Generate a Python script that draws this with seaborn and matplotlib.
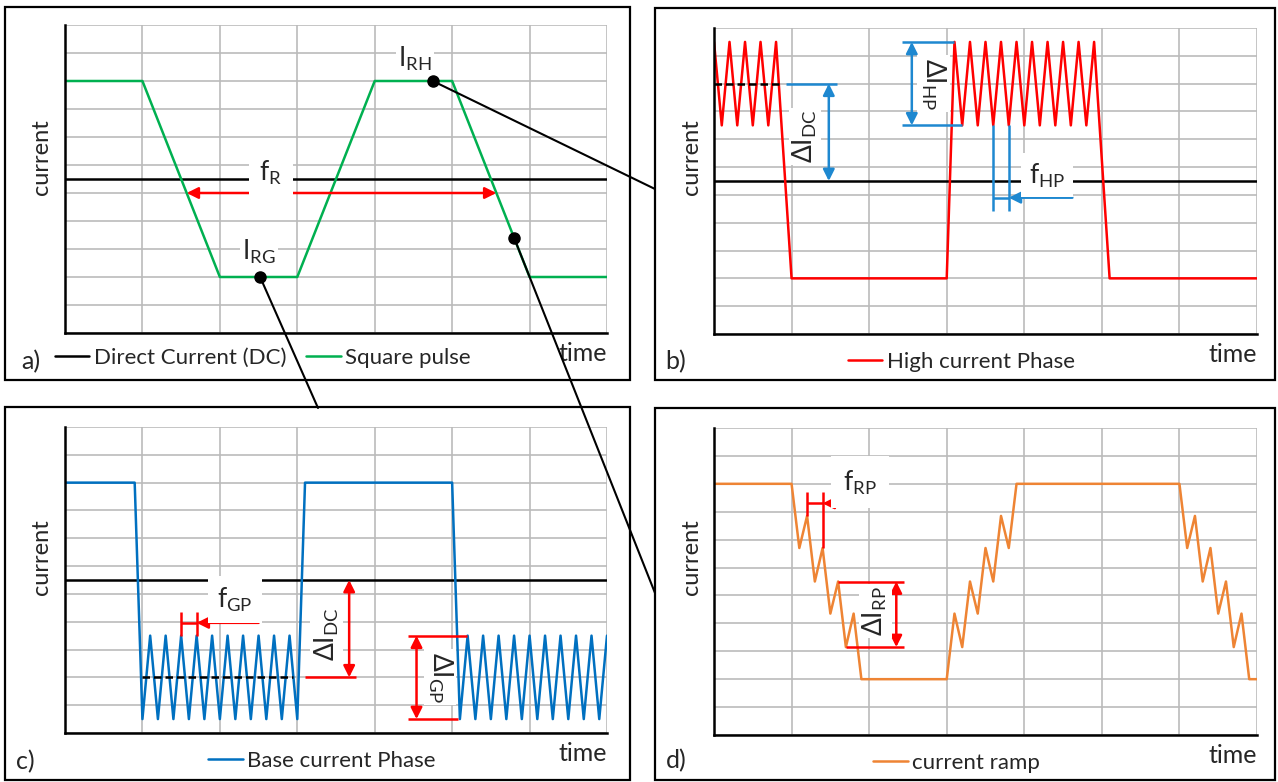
import matplotlib
matplotlib.use("Agg")
import numpy as np
import matplotlib.pyplot as plt
from matplotlib.patches import Rectangle, ConnectionPatch
import seaborn as sns

# ---------------- data ----------------
dc_level = 5.5

square_time = [0, 1, 2, 3, 4, 5, 6, 7]
square_current = [9, 9, 2, 2, 9, 9, 2, 2]

high_time = [0, 0.1, 0.2, 0.3, 0.4, 0.5, 0.6, 0.7, 0.8, 1.0,
             3.0, 3.1, 3.2, 3.3, 3.4, 3.5, 3.6, 3.7, 3.8, 3.9, 4.0,
             4.1, 4.2, 4.3, 4.4, 4.5, 4.6, 4.7, 4.8, 4.9, 5.1, 7.0]
high_current = [10.5, 7.5, 10.5, 7.5, 10.5, 7.5, 10.5, 7.5, 10.5, 2,
                2, 10.5, 7.5, 10.5, 7.5, 10.5, 7.5, 10.5, 7.5, 10.5, 7.5,
                10.5, 7.5, 10.5, 7.5, 10.5, 7.5, 10.5, 7.5, 10.5, 2, 2]

base_time = [0, 0.9, 1.0, 1.1, 1.2, 1.3, 1.4, 1.5, 1.6, 1.7, 1.8, 1.9, 2.0,
             2.1, 2.2, 2.3, 2.4, 2.5, 2.6, 2.7, 2.8, 2.9, 3.0, 3.1, 5.0,
             5.1, 5.2, 5.3, 5.4, 5.5, 5.6, 5.7, 5.8, 5.9, 6.0,
             6.1, 6.2, 6.3, 6.4, 6.5, 6.6, 6.7, 6.8, 6.9, 7.0]
base_current = [9, 9, 0.5, 3.5, 0.5, 3.5, 0.5, 3.5, 0.5, 3.5, 0.5, 3.5, 0.5,
                3.5, 0.5, 3.5, 0.5, 3.5, 0.5, 3.5, 0.5, 3.5, 0.5, 9, 9,
                0.5, 3.5, 0.5, 3.5, 0.5, 3.5, 0.5, 3.5, 0.5, 3.5,
                0.5, 3.5, 0.5, 3.5, 0.5, 3.5, 0.5, 3.5, 0.5, 3.5]

ramp_time = [0, 1.0, 1.1, 1.2, 1.3, 1.4, 1.5, 1.6, 1.7, 1.8, 1.9,
             3.0, 3.1, 3.2, 3.3, 3.4, 3.5, 3.6, 3.7, 3.8, 3.9,
             6.0, 6.1, 6.2, 6.3, 6.4, 6.5, 6.6, 6.7, 6.8, 6.9, 7.0]
ramp_current = [9, 9, 6.7, 7.85, 5.5, 6.7, 4.35, 5.5, 3.15, 4.35, 2,
                2, 4.35, 3.15, 5.5, 4.35, 6.7, 5.5, 7.85, 6.7, 9,
                9, 6.7, 7.85, 5.5, 6.7, 4.35, 5.5, 3.15, 4.35, 2, 2]

# mean levels of the pulsed phases and ripple bounds
hp_mean, hp_top, hp_bottom = 9, 10.5, 7.5
gp_mean, gp_top, gp_bottom = 2, 3.5, 0.5

# time positions of the marked points on the square pulse
dot_time = [4.75, 2.52, 5.8]

series_labels = ["Direct Current (DC)", "Square pulse", "High current Phase",
                 "Base current Phase", "current ramp"]
panel_letters = ["a)", "b)", "c)", "d)"]

# ---------------- style ----------------
sns.set_style("whitegrid")
plt.rcParams["font.family"] = ["Lato", "DejaVu Sans"]
plt.rcParams["mathtext.fontset"] = "custom"
plt.rcParams["mathtext.rm"] = "Lato"
plt.rcParams["mathtext.it"] = "Lato"
plt.rcParams["mathtext.default"] = "rm"
plt.rcParams["mathtext.fallback"] = "stixsans"

GREEN = "#00B050"
RED = "#FF0000"
BLUE = "#0070C0"
BLUE_ANN = "#1E88D0"
ORANGE = "#EE8434"
GRID = "#BBBBBB"
LW = 1.8
ANN_SIZE = 19

W, H = 1278, 782
fig = plt.figure(figsize=(W / 100, H / 100), dpi=100)
fig.patch.set_facecolor("white")


def fx(px):
    return px / W


def fy(py):
    return 1 - py / H


def make_axes(left, top, right, bottom):
    return fig.add_axes([fx(left), fy(bottom), (right - left) / W, (bottom - top) / H])


def style_axes(ax, ylab_xy):
    ax.set_xlim(0, 7)
    ax.set_ylim(0, 11)
    ax.set_xticks(range(8))
    ax.set_yticks(range(12))
    ax.tick_params(length=0, labelleft=False, labelbottom=False)
    ax.grid(True, color=GRID, lw=1.2)
    ax.set_axisbelow(True)
    for s in ["top", "right"]:
        ax.spines[s].set_visible(False)
    for s in ["left", "bottom"]:
        ax.spines[s].set_color("black")
        ax.spines[s].set_linewidth(1.8)
    ax.set_xlabel("")
    ax.set_ylabel("current", fontsize=17, va="center")
    ax.yaxis.set_label_coords(*ylab_xy)
    ax.text(1.0, -0.068, "time", transform=ax.transAxes, ha="right",
            va="center", fontsize=18)


def put_legend(ax, anchor, ncol=1):
    ax.legend(loc="center left", bbox_to_anchor=anchor, ncol=ncol,
              frameon=False, fontsize=16, handlelength=1.55,
              handletextpad=0.2, columnspacing=0.9, borderpad=0,
              borderaxespad=0)


def label(ax, x, y, s, rot=0, pad=0.3):
    ax.text(x, y, s, ha="center", va="center", rotation=rot,
            fontsize=ANN_SIZE, zorder=6,
            bbox=dict(fc="white", ec="none", boxstyle=f"square,pad={pad}"))


def seg(ax, xs, ys, color, ls="-"):
    ax.plot(xs, ys, color=color, lw=LW, ls=ls, zorder=4,
            solid_capstyle="butt")


def arrow(ax, start, end, color, style="-|>"):
    ax.annotate("", xy=end, xytext=start,
                arrowprops=dict(arrowstyle=style, color=color, lw=LW,
                                mutation_scale=17, shrinkA=0, shrinkB=0),
                zorder=5)


def line(ax, t, i, color, lab=None):
    sns.lineplot(x=t, y=i, ax=ax, color=color, lw=LW, estimator=None,
                 sort=False, label=lab, legend=False)


ax_a = make_axes(65, 25, 607, 333)
ax_b = make_axes(714, 28, 1257, 334)
ax_c = make_axes(65, 427, 607, 733)
ax_d = make_axes(714, 428, 1257, 735)

# ---------------- a) square pulse ----------------
line(ax_a, [0, 7], [dc_level, dc_level], "black", series_labels[0])
line(ax_a, square_time, square_current, GREEN, series_labels[1])
style_axes(ax_a, (-0.044, 0.571))
put_legend(ax_a, (-0.0185, -0.081), ncol=2)

fr_start = np.interp(5, square_current[1:3][::-1], square_time[1:3][::-1])
fr_end = np.interp(5, square_current[5:7][::-1], square_time[5:7][::-1])
arrow(ax_a, (fr_start, 5), (fr_end, 5), RED, "<|-|>")
label(ax_a, 2.66, 5.72, r"$\mathrm{f_R}$", pad=0.4)
label(ax_a, 4.52, 9.78, r"$\mathrm{I_{RH}}$", pad=0.08)
label(ax_a, 2.51, 2.9, r"$\mathrm{I_{RG}}$", pad=0.08)

dot_current = np.interp(dot_time, square_time, square_current)
ax_a.plot(dot_time, dot_current, "o", color="black", ms=8, zorder=7)

# ---------------- b) high current phase ----------------
line(ax_b, [0, 7], [dc_level, dc_level], "black")
line(ax_b, high_time, high_current, RED, series_labels[2])
style_axes(ax_b, (-0.042, 0.578))
put_legend(ax_b, (0.2468, -0.0915))
seg(ax_b, [0, 0.85], [hp_mean, hp_mean], "black", ls=(0, (3, 1.6)))

seg(ax_b, [0.93, 1.58], [hp_mean, hp_mean], BLUE_ANN)
arrow(ax_b, (1.48, hp_mean), (1.48, dc_level), BLUE_ANN, "<|-|>")
label(ax_b, 1.17, 7.1, r"$\mathrm{\Delta I_{DC}}$", rot=90, pad=0.08)

seg(ax_b, [2.43, 3.09], [hp_top, hp_top], BLUE_ANN)
seg(ax_b, [2.43, 3.2], [hp_bottom, hp_bottom], BLUE_ANN)
arrow(ax_b, (2.55, hp_top), (2.55, hp_bottom), BLUE_ANN, "<|-|>")
label(ax_b, 2.83, 9.0, r"$\mathrm{\Delta I_{HP}}$", rot=270, pad=0.08)

seg(ax_b, [3.6, 3.6], [hp_bottom, 4.43], BLUE_ANN)
seg(ax_b, [3.8, 3.8], [hp_bottom, 4.43], BLUE_ANN)
seg(ax_b, [3.6, 3.8], [4.9, 4.9], BLUE_ANN)
arrow(ax_b, (4.62, 4.9), (3.8, 4.9), BLUE_ANN)
label(ax_b, 4.29, 5.7, r"$\mathrm{f_{HP}}$", pad=0.3)

# ---------------- c) base current phase ----------------
line(ax_c, [0, 7], [dc_level, dc_level], "black")
line(ax_c, base_time, base_current, BLUE, series_labels[3])
style_axes(ax_c, (-0.044, 0.575))
put_legend(ax_c, (0.264, -0.0915))
seg(ax_c, [1.0, 2.95], [gp_mean, gp_mean], "black", ls=(0, (3, 1.6)))

seg(ax_c, [1.5, 1.5], [gp_top, 4.35], RED)
seg(ax_c, [1.7, 1.7], [gp_top, 4.35], RED)
seg(ax_c, [1.5, 1.7], [3.96, 3.96], RED)
arrow(ax_c, (2.5, 3.96), (1.7, 3.96), RED)
label(ax_c, 2.19, 4.8, r"$\mathrm{f_{GP}}$", pad=0.35)

seg(ax_c, [3.1, 3.76], [gp_mean, gp_mean], RED)
arrow(ax_c, (3.67, dc_level), (3.67, gp_mean), RED, "<|-|>")
label(ax_c, 3.38, 3.55, r"$\mathrm{\Delta I_{DC}}$", rot=90, pad=0.08)

seg(ax_c, [4.43, 5.19], [gp_top, gp_top], RED)
seg(ax_c, [4.43, 5.08], [gp_bottom, gp_bottom], RED)
arrow(ax_c, (4.54, gp_top), (4.54, gp_bottom), RED, "<|-|>")
label(ax_c, 4.84, 2.0, r"$\mathrm{\Delta I_{GP}}$", rot=270, pad=0.08)

# ---------------- d) current ramp ----------------
line(ax_d, ramp_time, ramp_current, ORANGE, series_labels[4])
style_axes(ax_d, (-0.042, 0.58))
put_legend(ax_d, (0.293, -0.0912))

seg(ax_d, [1.2, 1.2], [8.72, 7.85], RED)
seg(ax_d, [1.4, 1.4], [8.72, 6.7], RED)
seg(ax_d, [1.2, 1.4], [8.3, 8.3], RED)
arrow(ax_d, (2.22, 8.3), (1.4, 8.3), RED)
label(ax_d, 1.88, 9.05, r"$\mathrm{f_{RP}}$", pad=0.45)

seg(ax_d, [1.6, 2.45], [5.5, 5.5], RED)
seg(ax_d, [1.7, 2.45], [3.15, 3.15], RED)
arrow(ax_d, (2.35, 5.5), (2.35, 3.15), RED, "<|-|>")
label(ax_d, 2.08, 4.45, r"$\mathrm{\Delta I_{RP}}$", rot=90, pad=0.08)

# ---------------- panel frames, letters, connectors ----------------
frames = [(5, 7, 630, 380), (655, 8, 1275, 380),
          (5, 407, 630, 780), (655, 408, 1275, 780)]
for (l, t, r, b) in frames:
    fig.add_artist(Rectangle((fx(l), fy(b)), (r - l) / W, (b - t) / H,
                             transform=fig.transFigure, fill=False,
                             ec="black", lw=1.6, zorder=1))

letter_pos = [(31, 362), (676, 362), (25, 762), (676, 761)]
for s, (px, py) in zip(panel_letters, letter_pos):
    fig.text(fx(px), fy(py), s, ha="center", va="center", fontsize=18)

targets = [(655, 189), (318, 408), (655, 593)]
for xd, yd, (px, py) in zip(dot_time, dot_current, targets):
    fig.add_artist(ConnectionPatch(xyA=(xd, yd), coordsA=ax_a.transData,
                                   xyB=(fx(px), fy(py)),
                                   coordsB=fig.transFigure,
                                   color="black", lw=1.5, zorder=10))

fig.savefig("out.png", dpi=100, facecolor="white")
